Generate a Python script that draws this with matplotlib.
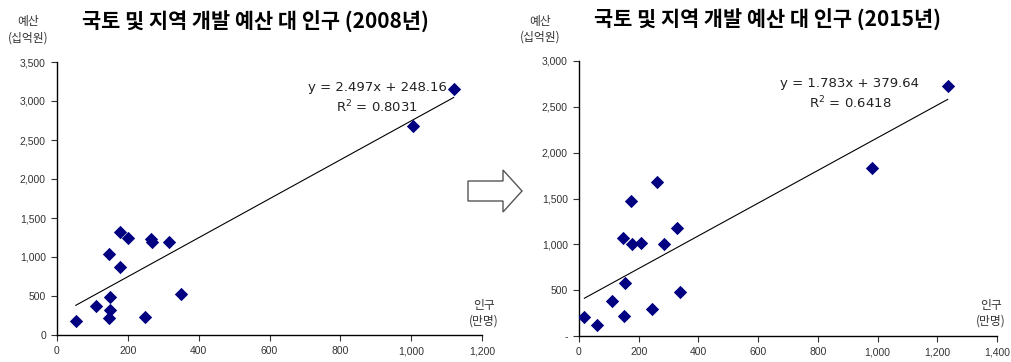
import matplotlib.pyplot as plt
from matplotlib.patches import Polygon
import numpy as np

plt.rcParams['font.family'] = ['Liberation Sans', 'Noto Sans CJK KR', 'DejaVu Sans']

# 2008년 데이터 (인구: 만명, 예산: 십억원)
pop_2008 = [53, 110, 147, 149, 149, 146, 178, 178, 200, 265, 268, 315, 248, 350, 1005, 1120]
bud_2008 = [185, 372, 214, 317, 483, 1038, 868, 1320, 1244, 1231, 1188, 1196, 235, 522, 2680, 3150]
slope_2008, icpt_2008 = 2.497, 248.16

# 2015년 데이터
pop_2015 = [18, 60, 112, 151, 155, 149, 178, 208, 173, 262, 286, 328, 243, 339, 983, 1235]
bud_2015 = [207, 117, 379, 223, 583, 1070, 1009, 1016, 1471, 1675, 1009, 1183, 299, 480, 1831, 2726]
slope_2015, icpt_2015 = 1.783, 379.64

yticks_2008 = [0, 500, 1000, 1500, 2000, 2500, 3000, 3500]
yticks_2015 = [0, 500, 1000, 1500, 2000, 2500, 3000]
xticks_2008 = [0, 200, 400, 600, 800, 1000, 1200]
xticks_2015 = [0, 200, 400, 600, 800, 1000, 1200, 1400]

W, H = 1012, 362
fig = plt.figure(figsize=(W / 100, H / 100), dpi=100)

ax1 = fig.add_axes([57 / W, 27 / H, 425 / W, 273 / H])
ax2 = fig.add_axes([579 / W, 26 / H, 418 / W, 275 / H])

kfont = ['Noto Sans CJK KR']
grey = '#333333'


def fmt(v, dash_zero=False):
    if v == 0 and dash_zero:
        return '-'
    return f'{v:,}'


def draw(ax, xs, ys, slope, icpt, xt, yt, dash_zero):
    ax.scatter(xs, ys, marker='D', s=46, color='#000080', zorder=3, linewidths=0)
    lx = np.array([min(xs), max(xs)])
    ax.plot(lx, slope * lx + icpt, color='black', lw=0.8)
    ax.set_xlim(xt[0], xt[-1])
    ax.set_ylim(yt[0], yt[-1])
    ax.set_xticks(xt)
    ax.set_xticklabels([fmt(v) for v in xt])
    ax.set_yticks(yt)
    ax.set_yticklabels([fmt(v, dash_zero) for v in yt])
    for s in ['top', 'right']:
        ax.spines[s].set_visible(False)
    for s in ['left', 'bottom']:
        ax.spines[s].set_linewidth(1.0)
    ax.tick_params(direction='out', length=4, width=0.8, labelsize=7.5,
                   colors=grey, pad=4)


draw(ax1, pop_2008, bud_2008, slope_2008, icpt_2008, xticks_2008, yticks_2008, False)
draw(ax2, pop_2015, bud_2015, slope_2015, icpt_2015, xticks_2015, yticks_2015, True)

# 제목
fig.text(255 / W, 1 - 22 / H, '국토 및 지역 개발 예산 대 인구 (2008년)', ha='center',
         va='center', fontsize=15, fontweight='bold', family=kfont)
fig.text(768 / W, 1 - 20 / H, '국토 및 지역 개발 예산 대 인구 (2015년)', ha='center',
         va='center', fontsize=15, fontweight='bold', family=kfont)

# 축 단위 표시
for cx, y1, y2, t1, t2 in [(28, 22, 38, '예산', '(십억원)'),
                           (540, 21, 37, '예산', '(십억원)'),
                           (484, 305, 321, '인구', '(만명)'),
                           (991, 305, 321, '인구', '(만명)')]:
    fig.text(cx / W, 1 - y1 / H, t1, ha='center', va='center', fontsize=8.5,
             family=kfont, color=grey)
    fig.text(cx / W, 1 - y2 / H, t2, ha='center', va='center', fontsize=8.5,
             family=kfont, color=grey)

# 회귀식
eqfont = ['DejaVu Sans']
fig.text(377 / W, 1 - 88 / H, 'y = 2.497x + 248.16', ha='center', va='center',
         fontsize=9.5, color='#222222', family=eqfont)
fig.text(377 / W, 1 - 107 / H, r'R$^2$ = 0.8031', ha='center', va='center',
         fontsize=9.5, color='#222222', family=eqfont)
fig.text(849 / W, 1 - 83 / H, 'y = 1.783x + 379.64', ha='center', va='center',
         fontsize=9.5, color='#222222', family=eqfont)
fig.text(850 / W, 1 - 103 / H, r'R$^2$ = 0.6418', ha='center', va='center',
         fontsize=9.5, color='#222222', family=eqfont)

# 가운데 화살표
pts = [(468, 181), (503, 181), (503, 170), (522, 191), (503, 212), (503, 201), (468, 201)]
arrow = Polygon([(x / W, 1 - y / H) for x, y in pts], closed=True,
                facecolor='white', edgecolor='#555555', lw=1.0,
                transform=fig.transFigure)
fig.patches.append(arrow)

fig.savefig('out.png', dpi=100)
